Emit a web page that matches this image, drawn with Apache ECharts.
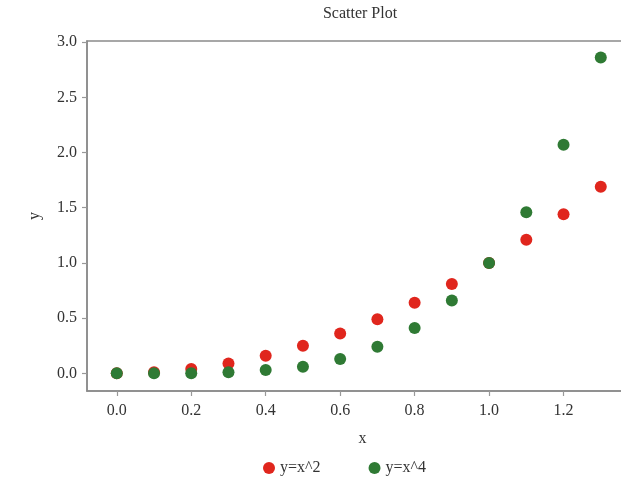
<!DOCTYPE html>
<html>
<head>
<meta charset="utf-8">
<script src="https://cdn.jsdelivr.net/npm/echarts@6/dist/echarts.min.js"></script>
<style>
  html, body { margin: 0; padding: 0; background: #fff; overflow: hidden; }
  #chart { width: 621px; height: 486px; }
</style>
</head>
<body>
<div id="chart"></div>
<script>
// x positions of the samples
var xs = [0.0, 0.1, 0.2, 0.3, 0.4, 0.5, 0.6, 0.7, 0.8, 0.9, 1.0, 1.1, 1.2, 1.3];
// y = x^2
var squares = [0, 0.01, 0.04, 0.09, 0.16, 0.25, 0.36, 0.49, 0.64, 0.81, 1.0, 1.21, 1.44, 1.69];
// y = x^4
var fourths = [0, 0, 0, 0.01, 0.03, 0.06, 0.13, 0.24, 0.41, 0.66, 1.0, 1.46, 2.07, 2.86];
// tick labels
var xTicks = [0.0, 0.2, 0.4, 0.6, 0.8, 1.0, 1.2];
var yTicks = [0.0, 0.5, 1.0, 1.5, 2.0, 2.5, 3.0];

var serif = '"Liberation Serif", "DejaVu Serif", serif';
var axisGray = '#8a8a8a';

function pairs(ys) {
  return xs.map(function (x, i) { return [x, ys[i]]; });
}

var chart = echarts.init(document.getElementById('chart'), null, { renderer: 'canvas' });
chart.setOption({
  animation: false,
  backgroundColor: '#ffffff',
  title: {
    text: 'Scatter Plot',
    left: 355, top: 1, textAlign: 'center',
    textStyle: { fontFamily: serif, fontSize: 16, fontWeight: 'normal', color: '#333' }
  },
  legend: {
    left: 258, top: 455,
    itemGap: 48, itemWidth: 12, itemHeight: 12,
    icon: 'circle',
    textStyle: { fontFamily: serif, fontSize: 16, color: '#333' },
    data: ['y=x^2', 'y=x^4']
  },
  grid: {
    left: 87, top: 41, width: 551, bottom: 95,
    outerBoundsMode: 'none', containLabel: false,
    show: true, borderColor: axisGray, borderWidth: 1.5
  },
  xAxis: {
    type: 'value', min: -0.08, max: 1.4,
    name: 'x', nameLocation: 'middle', nameGap: 40,
    nameTextStyle: { fontFamily: serif, fontSize: 16, color: '#333' },
    axisLine: { show: true, onZero: false, lineStyle: { color: axisGray, width: 1.5 } },
    splitLine: { show: false },
    axisTick: { show: true, inside: false, length: 5, lineStyle: { color: '#999', width: 1.2 }, customValues: xTicks },
    axisLabel: {
      fontFamily: serif, fontSize: 16, color: '#333', margin: 12,
      customValues: xTicks,
      formatter: function (v) { return v.toFixed(1); }
    }
  },
  yAxis: {
    type: 'value', min: -0.16, max: 3.01,
    name: 'y', nameLocation: 'middle', nameGap: 44, nameRotate: 90,
    nameTextStyle: { fontFamily: serif, fontSize: 16, color: '#333' },
    axisLine: { show: true, onZero: false, lineStyle: { color: axisGray, width: 1.5 } },
    splitLine: { show: false },
    axisTick: { show: true, inside: false, length: 5, lineStyle: { color: '#999', width: 1.2 }, customValues: yTicks },
    axisLabel: {
      fontFamily: serif, fontSize: 16, color: '#333', margin: 10,
      customValues: yTicks,
      formatter: function (v) { return v.toFixed(1); }
    }
  },
  series: [
    {
      name: 'y=x^2', type: 'scatter', symbolSize: 12,
      itemStyle: { color: '#e0261d', opacity: 1 },
      data: pairs(squares)
    },
    {
      name: 'y=x^4', type: 'scatter', symbolSize: 12,
      itemStyle: { color: '#2f7a34', opacity: 1 },
      data: pairs(fourths)
    }
  ]
});
</script>
</body>
</html>
